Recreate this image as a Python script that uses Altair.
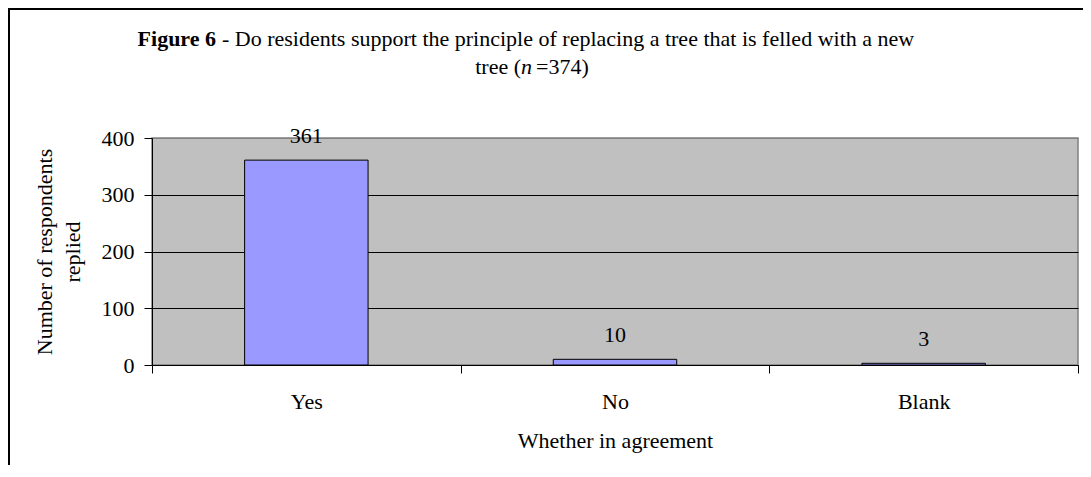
import altair as alt
import pandas as pd

# ---- data ----
categories = ["Yes", "No", "Blank"]
counts = [361, 10, 3]
y_ticks = [0, 100, 200, 300, 400]

title_bold = "Figure 6"
title_rest = "- Do residents support the principle of replacing a tree that is felled with a new"
title2_a = "tree ("
title2_n = "n"
title2_b = "=374)"
x_title = "Whether in agreement"
y_title = ["Number of respondents", "replied"]

df = pd.DataFrame({"answer": categories, "count": counts})

W, H = 926, 227
FONT = "Liberation Serif"
FS = 22

x_enc = alt.X(
    "answer:N",
    sort=categories,
    scale=alt.Scale(paddingInner=0, paddingOuter=0),
    axis=alt.Axis(
        title=x_title,
        labelAngle=0,
        tickBand="extent",
        domainColor="black",
        tickColor="black",
        tickSize=8,
        labelPadding=18,
        titlePadding=18,
        labelFont=FONT,
        titleFont=FONT,
        labelFontSize=FS,
        titleFontSize=FS,
        titleFontWeight="normal",
        labelColor="black",
        titleColor="black",
    ),
)

y_enc = alt.Y(
    "count:Q",
    scale=alt.Scale(domain=[0, 400], nice=False),
    axis=alt.Axis(
        values=y_ticks,
        title=y_title,
        grid=True,
        gridColor={"condition": {"test": "datum.value === 400", "value": "#808080"}, "value": "black"},
        gridWidth=1,
        domainColor="black",
        tickColor="black",
        tickSize=8,
        labelPadding=10,
        labelFont=FONT,
        titleFont=FONT,
        labelFontSize=FS,
        titleFontSize=FS,
        titleFontWeight="normal",
        labelColor="black",
        titleColor="black",
        titleAngle=270,
        titleAlign="center",
        titleBaseline="middle",
        titleLineHeight=28,
        titleX=-108,
        titleY=H / 2,
    ),
)

base = alt.Chart(df)

bars = base.mark_bar(
    width=alt.RelativeBandSize(0.4), color="#9999FF", stroke="black", strokeWidth=1
).encode(x=x_enc, y=y_enc)

labels = base.mark_text(
    dy=-17, baseline="alphabetic", font=FONT, fontSize=FS, color="black"
).encode(x=alt.X("answer:N", sort=categories), y="count:Q", text="count:Q")

one = alt.Data(values=[{}])


def txt(s, xv, yv, align="left", weight="normal", style="normal"):
    return alt.Chart(one).mark_text(
        text=s, align=align, baseline="alphabetic", font=FONT, fontSize=FS,
        fontWeight=weight, fontStyle=style, color="black",
    ).encode(x=alt.value(xv), y=alt.value(yv))


t1a = txt(title_bold, 64, -92, align="right", weight="bold")
t1b = txt(title_rest, 70, -92, align="left")
t2a = txt(title2_a, 369, -64, align="right")
t2n = txt(title2_n, 369, -64, align="left", style="italic")
t2b = txt(title2_b, 384, -64, align="left")

frame = alt.Chart(one).mark_rect(
    fill="transparent", stroke="black", strokeWidth=2
).encode(x=alt.value(-143), x2=alt.value(W + 40), y=alt.value(-129), y2=alt.value(H + 200))

chart = (
    alt.layer(bars, labels, t1a, t1b, t2a, t2n, t2b, frame)
    .properties(
        width=W,
        height=H,
        background="white",
        autosize=alt.AutoSizeParams(type="none"),
        padding={"left": 144, "top": 130, "right": 5, "bottom": 100},
    )
    .configure_view(fill="#C0C0C0", stroke="#808080", strokeWidth=1.5)
)

chart.save("out.html", embed_options={"renderer": "svg", "actions": False})
